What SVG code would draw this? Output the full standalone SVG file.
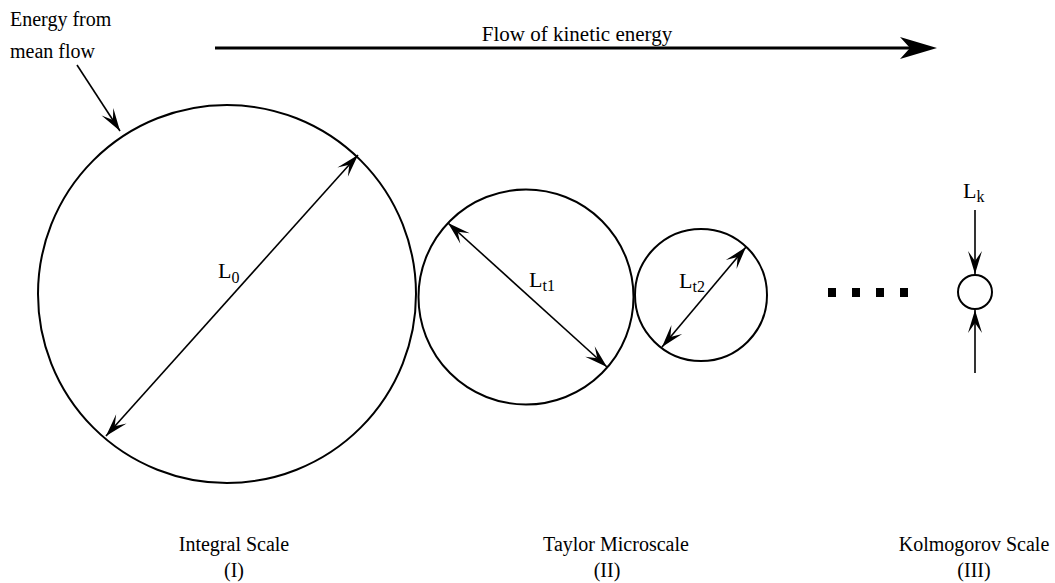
<svg xmlns="http://www.w3.org/2000/svg" width="1055" height="583" viewBox="0 0 1055 583">
  <style>
    .t { font-family: "Liberation Serif", "Times New Roman", serif; fill: #000; }
    .lbl { font-size: 20px; }
    .flow { font-size: 21px; }
    .sym { font-size: 22px; }
    .sub { font-size: 16px; }
    .circ { fill: none; stroke: #000; stroke-width: 2; }
    .dim { fill: none; stroke: #000; stroke-width: 1.6; }
  </style>
  <defs>
    <marker id="ah" viewBox="-24 -8 25 16" refX="0" refY="0" markerWidth="25" markerHeight="16" markerUnits="userSpaceOnUse" orient="auto-start-reverse">
      <path d="M0,0 L-23,-7 L-13,0 L-23,7 Z" fill="#000"/>
    </marker>
  </defs>
  <rect width="1055" height="583" fill="#fff"/>

  <g id="label-energy">
    <text class="t lbl" x="10" y="26">Energy from</text>
    <text class="t lbl" x="10" y="58">mean flow</text>
  </g>

  <g id="label-flow">
    <text class="t flow" x="577" y="41" text-anchor="middle">Flow of kinetic energy</text>
  </g>

  <g id="integral">
    <circle class="circ" cx="227" cy="294" r="189"/>
    <text class="t sym" x="218" y="278">L<tspan class="sub" dy="5">0</tspan></text>
    <text class="t lbl" x="234" y="551" text-anchor="middle">Integral Scale</text>
    <text class="t lbl" x="234" y="577" text-anchor="middle">(I)</text>
  </g>

  <g id="taylor1">
    <circle class="circ" cx="526" cy="297" r="107.5"/>
    <text class="t sym" x="529" y="287">L<tspan class="sub" dy="4">t1</tspan></text>
    <text class="t lbl" x="616" y="551" text-anchor="middle">Taylor Microscale</text>
    <text class="t lbl" x="607" y="577" text-anchor="middle">(II)</text>
  </g>

  <g id="taylor2">
    <circle class="circ" cx="701" cy="295" r="66"/>
    <text class="t sym" x="679" y="288">L<tspan class="sub" dy="4">t2</tspan></text>
  </g>

  <g id="dots">
    <rect x="828" y="288" width="8" height="9" fill="#000"/>
    <rect x="852" y="288" width="8" height="9" fill="#000"/>
    <rect x="876" y="288" width="8" height="9" fill="#000"/>
    <rect x="900" y="288" width="8" height="9" fill="#000"/>
  </g>

  <g id="kolmogorov">
    <circle class="circ" cx="975" cy="292" r="17"/>
    <text class="t sym" x="963" y="198">L<tspan class="sub" dy="4">k</tspan></text>
    <text class="t lbl" x="974" y="551" text-anchor="middle">Kolmogorov Scale</text>
    <text class="t lbl" x="974" y="577" text-anchor="middle">(III)</text>
  </g>

  <g id="connectors">
    <line x1="215" y1="48" x2="912" y2="48" stroke="#000" stroke-width="3"/>
    <path d="M937,48 L900,37 L910,48 L900,59 Z" fill="#000"/>
    <line class="dim" x1="77" y1="65" x2="120" y2="131" marker-end="url(#ah)"/>
    <line class="dim" x1="106" y1="436" x2="358" y2="155" marker-start="url(#ah)" marker-end="url(#ah)"/>
    <line class="dim" x1="448" y1="223" x2="607" y2="367" marker-start="url(#ah)" marker-end="url(#ah)"/>
    <line class="dim" x1="662" y1="347" x2="746" y2="247" marker-start="url(#ah)" marker-end="url(#ah)"/>
    <line class="dim" x1="975" y1="210" x2="975" y2="274" marker-end="url(#ah)"/>
    <line class="dim" x1="975" y1="373" x2="975" y2="310" marker-end="url(#ah)"/>
  </g>
</svg>
